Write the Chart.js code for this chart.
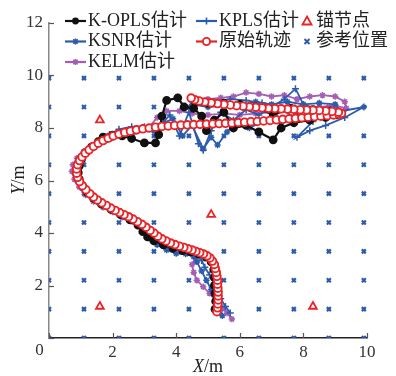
<!DOCTYPE html>
<html><head><meta charset="utf-8">
<script src="https://cdn.jsdelivr.net/npm/chart.js@4/dist/chart.umd.min.js"></script>
<style>html,body{margin:0;padding:0;background:#fff}#wrap{width:396px;height:376px;position:relative}</style>
</head><body><div id="wrap"><canvas id="c"></canvas></div>
<script>
const xTicks = [0,2,4,6,8,10];
const yTicks = [0,2,4,6,8,10,12];
const refXs = [0,1.1,2.2,3.3,4.4,5.5,6.6,7.7,8.8,9.9];
const refYs = [0,1.1,2.2,3.3,4.4,5.5,6.6,7.7,8.8,9.9];
const anchorPts = [[1.6,8.3],[5.1,4.7],[1.6,1.2],[8.3,1.2]];
const truePts = [[5.28,1.0],[5.3,1.15],[5.31,1.3],[5.32,1.45],[5.32,1.6],[5.32,1.75],[5.31,1.9],[5.3,2.05],[5.3,2.2],[5.28,2.35],[5.26,2.5],[5.23,2.65],[5.2,2.8],[5.14,2.93],[5.06,3.05],[4.97,3.13],[4.86,3.2],[4.74,3.25],[4.62,3.3],[4.5,3.35],[4.37,3.4],[4.24,3.45],[4.1,3.5],[3.96,3.56],[3.82,3.62],[3.68,3.7],[3.55,3.78],[3.42,3.88],[3.3,4.0],[3.18,4.1],[3.05,4.22],[2.92,4.33],[2.78,4.43],[2.64,4.53],[2.5,4.62],[2.36,4.7],[2.22,4.78],[2.08,4.86],[1.94,4.95],[1.8,5.05],[1.66,5.15],[1.52,5.26],[1.4,5.37],[1.28,5.5],[1.16,5.65],[1.05,5.8],[0.96,5.96],[0.9,6.12],[0.87,6.28],[0.87,6.44],[0.9,6.6],[0.96,6.76],[1.04,6.9],[1.14,7.04],[1.26,7.17],[1.4,7.3],[1.55,7.42],[1.7,7.52],[1.86,7.61],[2.02,7.7],[2.2,7.77],[2.38,7.83],[2.56,7.88],[2.75,7.93],[2.95,7.97],[3.15,8.0],[3.35,8.03],[3.55,8.06],[3.75,8.08],[3.95,8.1],[4.15,8.11],[4.35,8.12],[4.55,8.13],[4.75,8.14],[4.95,8.15],[5.15,8.16],[5.35,8.17],[5.55,8.18],[5.75,8.19],[5.95,8.21],[6.15,8.22],[6.35,8.24],[6.55,8.25],[6.75,8.27],[6.95,8.29],[7.15,8.31],[7.35,8.33],[7.55,8.35],[7.75,8.37],[7.95,8.39],[8.15,8.41],[8.35,8.43],[8.55,8.45],[8.75,8.47],[8.95,8.5],[9.12,8.52],[9.2,8.56],[9.1,8.6],[8.9,8.63],[8.7,8.65],[8.5,8.67],[8.3,8.68],[8.1,8.69],[7.9,8.7],[7.7,8.71],[7.5,8.72],[7.3,8.73],[7.1,8.74],[6.9,8.75],[6.7,8.77],[6.5,8.79],[6.3,8.81],[6.1,8.83],[5.9,8.85],[5.7,8.88],[5.5,8.9],[5.3,8.93],[5.1,8.96],[4.9,8.99],[4.72,9.03],[4.58,9.08],[4.47,9.14]];
const koplsPts = [[5.22,1.1],[5.24,1.4],[5.22,1.7],[5.2,2.0],[5.2,2.3],[5.18,2.6],[5.1,2.9],[4.95,3.08],[4.7,3.2],[4.45,3.28],[4.2,3.33],[3.9,3.42],[3.6,3.55],[3.3,3.7],[3.1,3.85],[2.95,4.05],[2.8,4.3],[2.55,4.5],[2.25,4.7],[1.95,4.9],[1.65,5.1],[1.4,5.32],[1.2,5.55],[1.05,5.8],[0.95,6.05],[0.92,6.3],[0.95,6.55],[1.02,6.8],[1.15,7.05],[1.35,7.28],[1.55,7.48],[1.7,7.65],[2.0,7.73],[2.3,7.7],[2.6,7.6],[3.0,7.43],[3.35,7.43],[3.45,7.75],[3.55,8.45],[3.7,9.05],[4.05,9.15],[4.25,8.8],[4.55,8.75],[4.8,8.45],[4.95,7.9],[5.2,8.3],[5.5,8.6],[5.8,8.0],[6.2,8.1],[6.6,7.85],[7.05,7.55],[7.3,8.0],[7.7,8.2],[8.2,8.3],[8.7,8.4],[9.05,8.5],[8.85,8.65],[8.3,8.7],[7.6,8.75],[7.05,8.5],[6.5,8.8],[6.0,8.9],[5.5,8.95],[5.0,8.95],[4.6,9.0]];
const kplsPts = [[5.7,0.95],[5.55,1.2],[5.4,1.5],[5.3,1.8],[5.2,2.1],[5.05,2.4],[4.9,2.7],[4.8,2.95],[4.65,3.15],[4.4,3.3],[4.1,3.35],[3.8,3.45],[3.5,3.65],[3.25,3.9],[3.0,4.15],[2.75,4.4],[2.45,4.6],[2.15,4.82],[1.85,5.02],[1.55,5.22],[1.3,5.42],[1.1,5.65],[0.95,5.9],[0.85,6.2],[0.85,6.5],[0.95,6.8],[1.1,7.05],[1.35,7.3],[1.6,7.55],[1.9,7.75],[2.2,7.95],[2.6,8.05],[3.0,8.05],[3.4,7.95],[3.8,8.5],[4.1,7.7],[4.4,8.6],[4.7,7.4],[4.85,7.15],[5.1,7.9],[5.4,8.6],[5.8,8.3],[6.2,8.7],[6.6,8.5],[7.0,8.8],[7.4,9.1],[7.75,9.5],[8.0,8.9],[8.5,8.7],[9.0,8.6],[9.9,8.8],[9.3,8.4],[8.7,8.1],[8.2,7.9],[7.8,7.65],[8.3,8.25],[7.7,8.45],[7.2,8.75],[6.7,8.95],[6.2,9.05],[5.7,9.1],[5.2,9.0],[4.6,8.95]];
const ksnrPts = [[5.45,0.85],[5.35,1.15],[5.25,1.5],[5.1,1.85],[4.95,2.2],[4.8,2.55],[4.65,2.9],[4.55,3.1],[4.3,3.2],[4.0,3.22],[3.7,3.35],[3.4,3.55],[3.15,3.8],[2.95,4.1],[2.7,4.4],[2.4,4.6],[2.1,4.8],[1.8,5.0],[1.5,5.2],[1.25,5.45],[1.05,5.7],[0.9,6.0],[0.82,6.3],[0.85,6.6],[0.95,6.85],[1.1,7.1],[1.3,7.3],[1.55,7.5],[1.85,7.7],[2.2,7.85],[2.6,7.95],[3.0,8.0],[3.3,7.9],[3.6,8.2],[3.9,8.35],[4.2,7.7],[4.5,8.1],[4.85,7.2],[5.1,7.65],[5.3,7.35],[5.6,7.85],[5.9,8.25],[6.3,8.0],[6.8,8.3],[7.3,8.25],[7.8,8.5],[8.3,8.5],[8.8,8.55],[9.2,8.6],[9.0,8.9],[8.5,8.95],[8.0,8.9],[7.5,9.0],[7.0,8.9],[6.5,9.0],[6.0,8.85],[5.5,8.85],[5.0,8.8],[4.5,8.9]];
const kelmPts = [[5.75,0.72],[5.6,0.95],[5.45,1.15],[5.25,1.4],[5.05,1.7],[4.85,1.95],[4.65,2.2],[4.55,2.5],[4.5,2.8],[4.6,3.05],[4.75,3.2],[4.5,3.3],[4.2,3.38],[3.9,3.48],[3.6,3.62],[3.35,3.8],[3.1,4.0],[2.85,4.25],[2.6,4.45],[2.3,4.6],[2.0,4.8],[1.7,4.98],[1.4,5.2],[1.15,5.45],[0.95,5.75],[0.8,6.05],[0.72,6.35],[0.75,6.6],[0.88,6.85],[1.1,7.1],[1.35,7.3],[1.65,7.5],[1.95,7.6],[2.3,7.75],[2.7,7.85],[3.1,7.95],[3.4,8.4],[3.7,8.65],[4.1,8.65],[4.5,8.55],[5.0,8.5],[5.5,8.55],[6.0,8.5],[6.5,8.55],[7.0,8.6],[7.5,8.7],[8.0,8.75],[8.5,8.8],[9.0,8.85],[9.35,8.75],[9.3,9.0],[9.0,9.2],[8.6,9.25],[8.2,9.2],[7.8,9.1],[7.4,9.25],[7.0,9.2],[6.6,9.3],[6.2,9.35],[5.8,9.2],[5.4,9.15],[5.0,9.1],[4.6,9.05]];
const labels = ['K-OPLS估计','KPLS估计','锚节点','KSNR估计','原始轨迹','参考位置','KELM估计'];

const RED='#ea2327', BLUE='#2d5bab', BLACK='#111111', PURPLE='#a45fb5';
const toXY = a => a.map(p => ({x:p[0], y:p[1]}));
const refData = [];
refXs.forEach(x => refYs.forEach(y => refData.push({x, y})));
const FONT = '"Liberation Serif","Noto Sans CJK SC",serif';

function marker(ctx, style, x, y, color){
  ctx.save(); ctx.strokeStyle=color; ctx.fillStyle=color; ctx.lineWidth=1.6;
  if(style==='dot'){ctx.beginPath();ctx.arc(x,y,3.4,0,Math.PI*2);ctx.fill();}
  else if(style==='circle'){ctx.fillStyle='#fff';ctx.lineWidth=1.9;ctx.beginPath();ctx.arc(x,y,3.6,0,Math.PI*2);ctx.fill();ctx.stroke();}
  else if(style==='cross'){ctx.beginPath();ctx.moveTo(x-3.5,y);ctx.lineTo(x+3.5,y);ctx.moveTo(x,y-3.5);ctx.lineTo(x,y+3.5);ctx.stroke();}
  else if(style==='star'){ctx.beginPath();ctx.moveTo(x-3,y);ctx.lineTo(x+3,y);ctx.moveTo(x,y-3);ctx.lineTo(x,y+3);ctx.moveTo(x-2.2,y-2.2);ctx.lineTo(x+2.2,y+2.2);ctx.moveTo(x-2.2,y+2.2);ctx.lineTo(x+2.2,y-2.2);ctx.stroke();}
  else if(style==='tri'){ctx.fillStyle='#fff';ctx.lineWidth=1.8;ctx.beginPath();ctx.moveTo(x,y-4.5);ctx.lineTo(x+4.5,y+3.5);ctx.lineTo(x-4.5,y+3.5);ctx.closePath();ctx.fill();ctx.stroke();}
  else if(style==='xmark'){ctx.lineWidth=2;ctx.beginPath();ctx.moveTo(x-2.5,y-2.5);ctx.lineTo(x+2.5,y+2.5);ctx.moveTo(x-2.5,y+2.5);ctx.lineTo(x+2.5,y-2.5);ctx.stroke();}
  ctx.restore();
}

const legendItems = [
  {col:0,row:0,text:labels[0],color:BLACK,line:true,m:'dot'},
  {col:1,row:0,text:labels[1],color:BLUE,line:true,m:'cross'},
  {col:2,row:0,text:labels[2],color:RED,line:false,m:'tri'},
  {col:0,row:1,text:labels[3],color:BLUE,line:true,m:'star'},
  {col:1,row:1,text:labels[4],color:RED,line:true,m:'circle'},
  {col:2,row:1,text:labels[5],color:BLUE,line:false,m:'xmark'},
  {col:0,row:2,text:labels[6],color:PURPLE,line:true,m:'star'}
];
const colX = [65,196,307];
const rowY = [21,41.5,62];

const deco = {
  id:'deco',
  afterDraw(chart){
    const {ctx, scales:{x,y}, chartArea:a} = chart;
    ctx.save();
    ctx.strokeStyle='#555'; ctx.lineWidth=1.2;
    xTicks.forEach(v=>{const px=Math.round(x.getPixelForValue(v))+0.5; ctx.beginPath(); ctx.moveTo(px,a.bottom); ctx.lineTo(px,a.bottom-5); ctx.stroke();});
    yTicks.forEach(v=>{const py=Math.round(y.getPixelForValue(v))+0.5; ctx.beginPath(); ctx.moveTo(a.left,py); ctx.lineTo(a.left+5,py); ctx.stroke();});
    // shared corner zero
    ctx.fillStyle='#333'; ctx.textAlign='center'; ctx.textBaseline='middle';
    ctx.font='17px "Liberation Serif",serif'; ctx.fillText('0',39.5,351);
    // axis titles
    ctx.fillStyle='#222'; ctx.textBaseline='middle';
    ctx.font='italic 18px "Liberation Serif",serif'; const wX=ctx.measureText('X').width;
    ctx.font='18px "Liberation Serif",serif'; const wm=ctx.measureText('/m').width;
    let sx = 208-(wX+wm)/2;
    ctx.font='italic 18px "Liberation Serif",serif'; ctx.textAlign='left'; ctx.fillText('X',sx,367);
    ctx.font='18px "Liberation Serif",serif'; ctx.fillText('/m',sx+wX,367);
    ctx.save(); ctx.translate(19,180); ctx.rotate(-Math.PI/2);
    ctx.font='italic 18px "Liberation Serif",serif'; const wY=ctx.measureText('Y').width;
    sx = -(wY+wm)/2;
    ctx.fillText('Y',sx,0); ctx.font='18px "Liberation Serif",serif'; ctx.fillText('/m',sx+wY,0);
    ctx.restore();
    // legend
    ctx.font='18px '+FONT; ctx.textAlign='left'; ctx.textBaseline='middle';
    legendItems.forEach(it=>{
      const lx=colX[it.col], ly=rowY[it.row];
      if(it.line){
        ctx.strokeStyle=it.color; ctx.lineWidth=2.2;
        ctx.beginPath(); ctx.moveTo(lx,ly); ctx.lineTo(lx+21,ly); ctx.stroke();
        marker(ctx,it.m,lx+10.5,ly,it.color);
        ctx.fillStyle='#222'; ctx.fillText(it.text,lx+23,ly);
      } else {
        marker(ctx,it.m,lx,ly,it.color);
        ctx.fillStyle='#222'; ctx.fillText(it.text,lx+9,ly);
      }
    });
    ctx.restore();
  }
};

new Chart(document.getElementById('c'), {
  type:'scatter',
  data:{datasets:[
    {label:labels[4],data:toXY(truePts),showLine:true,borderColor:RED,borderWidth:2.2,pointStyle:'circle',pointRadius:3.8,pointBorderWidth:1.9,pointBackgroundColor:'#fff',pointBorderColor:RED},
    {label:labels[0],data:toXY(koplsPts),showLine:true,borderColor:BLACK,borderWidth:2.2,pointStyle:'circle',pointRadius:3.3,pointBackgroundColor:BLACK,pointBorderColor:BLACK},
    {label:labels[1],data:toXY(kplsPts),showLine:true,borderColor:BLUE,borderWidth:1.8,pointStyle:'cross',pointRadius:3.5,pointBorderWidth:1.5,pointBorderColor:BLUE},
    {label:labels[3],data:toXY(ksnrPts),showLine:true,borderColor:BLUE,borderWidth:1.8,pointStyle:'star',pointRadius:3.2,pointBorderWidth:1.5,pointBorderColor:BLUE},
    {label:labels[6],data:toXY(kelmPts),showLine:true,borderColor:PURPLE,borderWidth:1.8,pointStyle:'star',pointRadius:3.2,pointBorderWidth:1.5,pointBorderColor:PURPLE},
    {label:labels[2],data:toXY(anchorPts),showLine:false,pointStyle:'triangle',pointRadius:4.5,pointBorderWidth:1.8,pointBorderColor:RED,pointBackgroundColor:'#fff'},
    {label:labels[5],data:refData,showLine:false,pointStyle:'crossRot',pointRadius:2.8,pointBorderWidth:2.2,pointBorderColor:BLUE}
  ]},
  options:{
    responsive:true, maintainAspectRatio:false, animation:false,
    layout:{padding:{top:23,right:29,left:0,bottom:0}},
    plugins:{legend:{display:false},tooltip:{enabled:false}},
    scales:{
      x:{type:'linear',min:0,max:10,
        afterFit(s){s.height=38;},
        afterBuildTicks(s){s.ticks=xTicks.map(v=>({value:v}));},
        ticks:{font:{family:FONT,size:17},color:'#333',padding:4,maxRotation:0,callback:v=>v===0?'':String(v)},
        grid:{display:true,drawOnChartArea:false,drawTicks:false},
        border:{display:true,color:'#222',width:1.5}},
      y:{type:'linear',min:0,max:12,
        afterFit(s){s.width=49;},
        afterBuildTicks(s){s.ticks=yTicks.map(v=>({value:v}));},
        ticks:{font:{family:FONT,size:17},color:'#333',padding:6,callback:v=>v===0?'':String(v)},
        grid:{display:true,drawOnChartArea:false,drawTicks:false},
        border:{display:true,color:'#888',width:1.5}}
    }
  },
  plugins:[deco]
});
</script></body></html>
